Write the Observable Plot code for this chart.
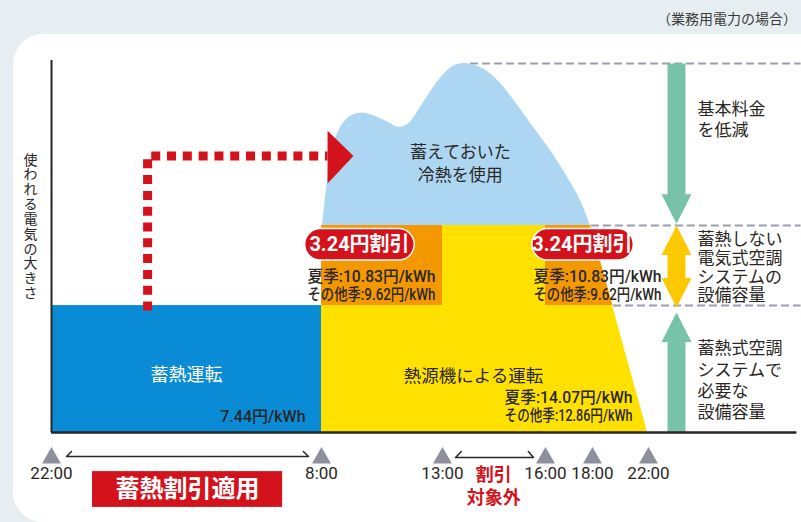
<!DOCTYPE html>
<html><head><meta charset="utf-8">
<script src="https://cdn.jsdelivr.net/npm/d3@7"></script>
<script src="https://cdn.jsdelivr.net/npm/@observablehq/plot@0.6"></script>
<style>
html,body{margin:0;padding:0;}
body{width:801px;height:522px;overflow:hidden;background:#e6eef1;position:relative;font-family:"Noto Sans CJK JP",sans-serif;}
#panel{position:absolute;left:13px;top:34px;width:830px;height:488px;background:#fff;border-radius:30px;}
#note{position:absolute;right:4px;top:8px;font-size:14px;color:#3a3a3a;font-family:"Noto Sans CJK JP",sans-serif;}
#chart{position:absolute;left:0;top:0;}
</style></head><body>
<div id="panel"></div>
<div id="note">（業務用電力の場合）</div>
<div id="chart"></div>
<script>
// ---- data (x = hours after 22:00, y = relative electricity use, peak = 100) ----
const tickHours = [0, 10, 15, 18, 20, 24];
const tickLabels = ["22:00", "8:00", "13:00", "16:00", "18:00", "22:00"];
const tickPixels = [51, 321, 442, 545, 592, 648];   // non-uniform time axis of the original

const demandHours  = [10.04, 10.17, 10.45, 10.79, 11.20, 11.74, 12.31, 12.77, 13.18, 13.60, 14.09, 14.63, 15.10, 15.35, 15.61, 15.90, 16.25, 16.69, 17.65, 18.21, 18.94, 19.49, 19.91];
const demandValues = [56.1, 63.7, 76.4, 82.7, 85.7, 86.6, 85.4, 84.0, 82.7, 83.7, 88.1, 93.5, 97.6, 99.4, 100, 99.6, 98.2, 94.6, 82.7, 76.4, 69.1, 62.9, 56.1];
const storageLevel = 34.4;   // 蓄熱式空調システムで必要な設備容量
const capLevel = 56.1;       // 蓄熱しない電気式空調システムの設備容量
const peakLevel = 100;
const storageHours = [0, 10];          // 22:00–8:00
const shutdownHour = 23.93;            // 22:00
const discountHours = [[10, 15], [18, 24]];

const storagePrice = "7.44円/kWh";
const discountBadge = "3.24円割引";
const discountPrices = ["夏季:10.83円/kWh", "その他季:9.62円/kWh"];
const normalPrices = ["夏季:14.07円/kWh", "その他季:12.86円/kWh"];

const rightNotes = ["基本料金", "を低減", "蓄熱しない", "電気式空調", "システムの", "設備容量", "蓄熱式空調", "システムで", "必要な", "設備容量"];
const rightNoteLevels = [87.5, 81.8, 52.4, 47.2, 42.0, 37.1, 22.8, 16.8, 11.1, 5.4];

// ---- derived shapes ----
const demand = demandHours.map((h, i) => ({h, v: demandValues[i]}));
const edgeTop = demandHours[demandHours.length - 1];
const yellow = [{h: 10, v: capLevel}, {h: edgeTop, v: capLevel}, {h: shutdownHour, v: 0}];
const edgeAtStorage = edgeTop + (shutdownHour - edgeTop) * (capLevel - storageLevel) / capLevel;
const orange = [
  {id: 0, h: discountHours[0][0], lo: storageLevel, hi: capLevel},
  {id: 0, h: discountHours[0][1], lo: storageLevel, hi: capLevel},
  {id: 1, h: discountHours[1][0], lo: storageLevel, hi: capLevel},
  {id: 1, h: edgeTop, lo: storageLevel, hi: capLevel},
  {id: 1, h: edgeAtStorage, lo: storageLevel, hi: storageLevel}
];

const sans = "Roboto, 'Noto Sans CJK JP', sans-serif";
const jp = "'Noto Sans CJK JP', sans-serif";
const ink = "#2a2624";
const red = "#d3121c";

// arrow polygons in the right-hand annotation column
const shaftHalf = 0.64, headHalf = 1.07, headLen = 8.0, arrowX = 26;
function arrow(id, x, y0, y1, heads) {
  const dir = Math.sign(y1 - y0);
  const s = heads[0] ? y0 + dir * headLen : y0;
  const e = heads[1] ? y1 - dir * headLen : y1;
  const p = [];
  if (heads[0]) p.push([x, y0], [x + headHalf, s], [x + shaftHalf, s]); else p.push([x + shaftHalf, y0]);
  if (heads[1]) p.push([x + shaftHalf, e], [x + headHalf, e], [x, y1], [x - headHalf, e], [x - shaftHalf, e]);
  else p.push([x + shaftHalf, y1], [x - shaftHalf, y1]);
  if (heads[0]) p.push([x - shaftHalf, s], [x - headHalf, s]); else p.push([x - shaftHalf, y0]);
  return p.map(([h, v]) => ({id, h, v}));
}
const greenArrows = [...arrow("down", arrowX, peakLevel, capLevel + 0.5, [false, true]), ...arrow("up", arrowX, 0, storageLevel - 1.9, [false, true])];
const goldArrow = arrow("both", arrowX, capLevel, storageLevel - 0.5, [true, true]);

// red dotted "carry over" arrow
const carryPath = [{h: 3.56, v: 33.06}, {h: 3.56, v: 74.9}, {h: 10.25, v: 74.9}];
const carryHead = [{h: 10.25, v: 81.8}, {h: 11.32, v: 74.9}, {h: 10.25, v: 67.5}];

const brackets = [
  {id: 0, h: 0.741, v: -5.15}, {id: 0, h: 0.556, v: -6.5}, {id: 0, h: 9.52, v: -6.5}, {id: 0, h: 9.33, v: -5.15},
  {id: 1, h: 15.55, v: -5.15}, {id: 1, h: 15.38, v: -6.8}, {id: 1, h: 17.65, v: -6.8}, {id: 1, h: 17.5, v: -5.15}
];

const badges = [{x1: 9.96, x2: 13.18, cx: 11.57}, {x1: 18.09, x2: 21.79, cx: 19.57}];
const badgeLevel = 51.0;

const chart = Plot.plot({
  width: 801, height: 522, margin: 0,
  style: {background: "transparent", overflow: "visible"},
  x: {type: "linear", domain: tickHours, range: tickPixels, axis: null},
  y: {type: "linear", domain: [0, 100], range: [432, 63], axis: null},
  marks: [
    // guide dashes
    Plot.ruleY([{v: peakLevel, h: 15.82}, {v: capLevel, h: 19.95}, {v: storageLevel, h: 21.5}],
      {y: "v", x1: "h", x2: 34.9, stroke: "#9b9eab", strokeWidth: 2, strokeDasharray: "8,4"}),
    // blocks
    Plot.rect([{x1: storageHours[0], x2: storageHours[1]}], {x1: "x1", x2: "x2", y1: 0, y2: storageLevel, fill: "#0a8bd6"}),
    Plot.areaY(yellow, {x: "h", y1: 0, y2: "v", fill: "#ffe100"}),
    Plot.areaY(orange, {x: "h", y1: "lo", y2: "hi", z: "id", fill: "#f39800"}),
    Plot.areaY(demand, {x: "h", y1: capLevel, y2: "v", fill: "#acd6f1", curve: "catmull-rom"}),
    // carry-over arrow
    Plot.line(carryPath, {x: "h", y: "v", stroke: red, strokeWidth: 9, strokeDasharray: "9,6.8", strokeLinecap: "butt", strokeLinejoin: "miter"}),
    Plot.line(carryHead, {x: "h", y: "v", fill: red, stroke: "none"}),
    // right arrows
    Plot.line(greenArrows, {x: "h", y: "v", z: "id", fill: "#77c3aa", stroke: "none"}),
    Plot.line(goldArrow, {x: "h", y: "v", z: "id", fill: "#fcc800", stroke: "none"}),
    // badges
    Plot.link(badges, {x1: "x1", x2: "x2", y1: badgeLevel, y2: badgeLevel, stroke: "#fff", strokeWidth: 33, strokeLinecap: "round"}),
    Plot.link(badges, {x1: "x1", x2: "x2", y1: badgeLevel, y2: badgeLevel, stroke: red, strokeWidth: 30, strokeLinecap: "round"}),
    Plot.text(badges, {x: "cx", y: badgeLevel, text: () => discountBadge, fill: "#fff", fontSize: 20, fontWeight: "bold", fontFamily: sans}),
    // price texts
    Plot.text([0, 1], {x: 9.48, y: i => [42.3, 37.4][i], text: i => discountPrices[i], textAnchor: "start", fill: ink, fontSize: 16, fontWeight: 500, fontFamily: sans}),
    Plot.text([0, 1], {x: 17.65, y: i => [42.3, 37.4][i], text: i => discountPrices[i], textAnchor: "start", fill: ink, fontSize: 16, fontWeight: 500, fontFamily: sans}),
    Plot.text([0, 1], {x: 22.86, y: i => [9.5, 4.6][i], text: i => normalPrices[i], textAnchor: "end", fill: ink, fontSize: 16, fontWeight: 500, fontFamily: sans}),
    Plot.text([storagePrice], {x: 9.41, y: 4.1, text: d => d, textAnchor: "end", fill: ink, fontSize: 16, fontWeight: 500, fontFamily: sans}),
    // area labels
    Plot.text(["蓄熱運転"], {x: 5.0, y: 15.4, text: d => d, fill: "#fff", fontSize: 18, fontFamily: jp}),
    Plot.text(["熱源機による運転"], {x: 15.9, y: 15.2, text: d => d, fill: ink, fontSize: 17.5, fontFamily: jp}),
    Plot.text(["蓄えておいた", "冷熱を使用"], {x: 15.52, y: (d, i) => [75.9, 69.6][i], text: d => d, fill: ink, fontSize: 17, fontFamily: jp}),
    // right notes
    Plot.text(rightNotes, {x: 27.5, y: (d, i) => rightNoteLevels[i], text: d => d, textAnchor: "start", fill: ink, fontSize: 17, fontFamily: jp}),
    // y label
    Plot.text(["使われる電気の大きさ"], {x: -0.78, y: 55.8, text: d => d.split("").join("\n"), fill: ink, fontSize: 14, lineHeight: 1.06, fontFamily: jp}),
    // axes
    Plot.ruleX([0], {y1: 0, y2: 100.8, stroke: ink, strokeWidth: 2}),
    Plot.ruleY([0], {x1: 0, x2: 34.6, stroke: ink, strokeWidth: 2.5}),
    Plot.dot(tickHours, {x: d => d, y: -6.9, symbol: "triangle", r: 7, fill: "#8e909d", stroke: "none"}),
    Plot.text(tickHours, {x: d => d, y: -11.2, text: (d, i) => tickLabels[i], fill: ink, fontSize: 17, fontFamily: sans}),
    Plot.line(brackets, {x: "h", y: "v", z: "id", stroke: ink, strokeWidth: 1.5}),
    Plot.rect([{x1: 1.52, x2: 8.56}], {x1: "x1", x2: "x2", y1: -20.3, y2: -10.6, fill: red}),
    Plot.text(["蓄熱割引適用"], {x: 5.04, y: -15.4, text: d => d, fill: "#fff", fontSize: 24, fontWeight: "bold", fontFamily: jp}),
    Plot.text(["割引", "対象外"], {x: 16.49, y: (d, i) => [-11.65, -17.9][i], text: d => d, fill: red, fontSize: 18, fontWeight: "bold", fontFamily: jp})
  ]
});
chart.querySelectorAll("text").forEach(t => {
  const s = t.textContent;
  if (/^(夏季|その他季):/.test(s)) {
    t.setAttribute("textLength", 128);
    t.setAttribute("lengthAdjust", "spacingAndGlyphs");
  }
});
document.getElementById("chart").appendChild(chart);
</script>
</body></html>
